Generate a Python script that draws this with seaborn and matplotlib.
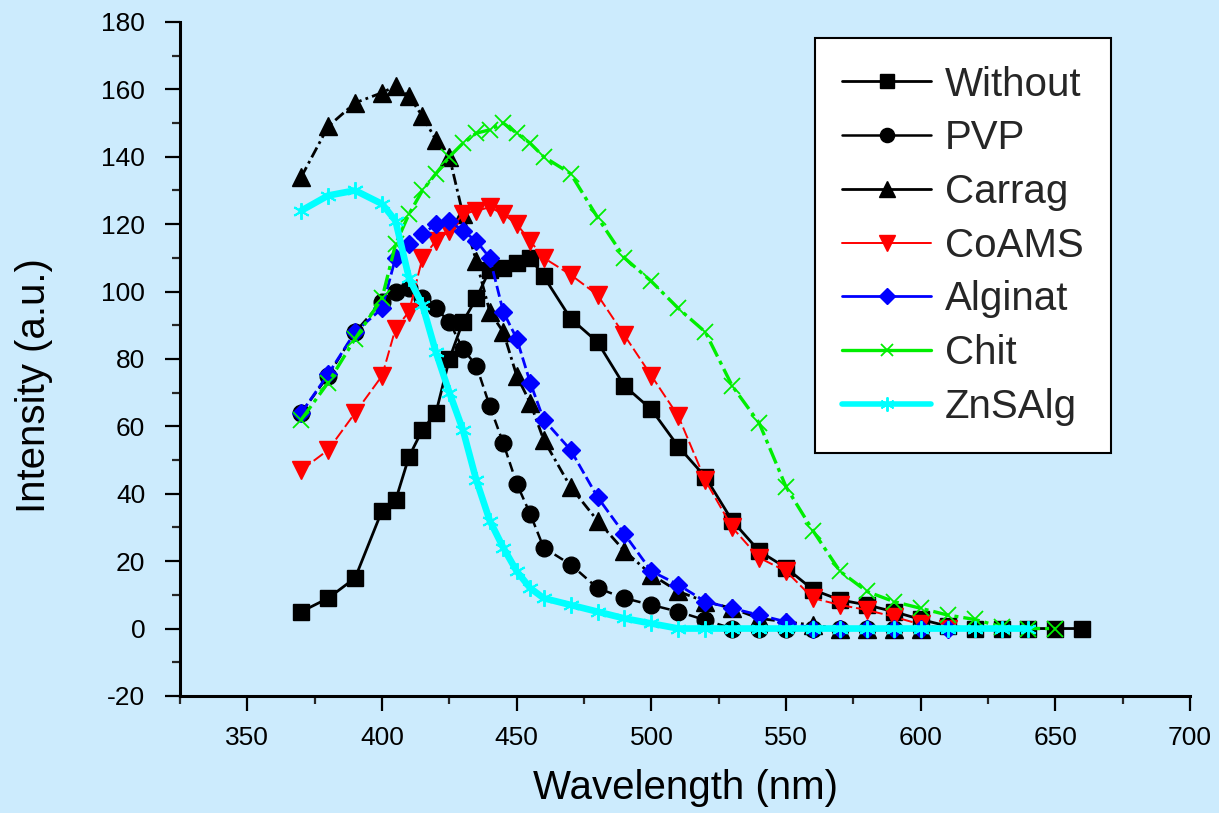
import matplotlib
matplotlib.use("Agg")
import matplotlib.pyplot as plt
from matplotlib.lines import Line2D
from matplotlib.ticker import MultipleLocator
import seaborn as sns

sns.set_theme(style="ticks")
plt.rcParams['font.family'] = ['Liberation Sans', 'DejaVu Sans']
plt.rcParams['axes.unicode_minus'] = False

# ---------------- data ----------------
without_x = [370, 380, 390, 400, 405, 410, 415, 420, 425, 430, 435, 440, 445, 450, 455, 460,
             470, 480, 490, 500, 510, 520, 530, 540, 550, 560, 570, 580, 590, 600, 610, 620,
             630, 640, 650, 660]
without_y = [5, 9, 15, 35, 38, 51, 59, 64, 80, 91, 98, 106.5, 107, 108.5, 110, 104.5,
             92, 85, 72, 65, 54, 45, 32, 23, 18, 11.5, 8.5, 7, 5, 2.7, 0.7, 0,
             0, 0, 0, 0]

pvp_x = [370, 380, 390, 400, 405, 410, 415, 420, 425, 430, 435, 440, 445, 450, 455, 460,
         470, 480, 490, 500, 510, 520, 530, 540, 550, 560, 570, 580, 590, 600]
pvp_y = [64, 75, 88, 97, 100, 101, 98, 95, 91, 83, 78, 66, 55, 43, 34, 24,
         19, 12, 9, 7, 5, 2.5, 0, 0, 0, 0, 0, 0, 0, 0]

carrag_x = [370, 380, 390, 400, 405, 410, 415, 420, 425, 430, 435, 440, 445, 450, 455, 460,
            470, 480, 490, 500, 510, 520, 530, 540, 550, 560, 570, 580, 590, 600]
carrag_y = [134, 149, 156, 159, 161, 158, 152, 145, 140, 123, 109, 94, 88, 75, 67, 56,
            42, 32, 23, 16, 11, 8, 6, 3, 2, 1, 0, 0, 0, 0]

coams_x = [370, 380, 390, 400, 405, 410, 415, 420, 425, 430, 435, 440, 445, 450, 455, 460,
           470, 480, 490, 500, 510, 520, 530, 540, 550, 560, 570, 580, 590, 600, 610]
coams_y = [47, 53, 64, 75, 89, 94, 110, 115, 118, 123, 124, 125, 123, 120, 115, 110,
           105, 99, 87, 75, 63, 44, 30, 21, 17, 9, 7, 5.5, 3.5, 1.2, 0]

alginat_x = [370, 380, 390, 400, 405, 410, 415, 420, 425, 430, 435, 440, 445, 450, 455, 460,
             470, 480, 490, 500, 510, 520, 530, 540, 550, 560, 570, 580, 590, 600, 610]
alginat_y = [64, 75.5, 88, 95, 110, 114, 117, 120, 121, 118, 115, 110, 94, 86, 73, 62,
             53, 39, 28, 17, 13, 8, 6, 4, 2, 0, 0, 0, 0, 0, 0]

chit_x = [370, 380, 390, 400, 405, 410, 415, 420, 425, 430, 435, 440, 445, 450, 455, 460,
          470, 480, 490, 500, 510, 520, 530, 540, 550, 560, 570, 580, 590, 600, 610, 620,
          630, 640, 650]
chit_y = [62, 73, 86, 98, 114, 123, 130, 135, 140, 144, 147, 148, 150, 147, 144, 140,
          135, 122, 110, 103, 95, 88, 72, 61, 42, 29, 17, 11, 8, 6, 4, 2.7,
          0.5, 0, 0]

znsalg_x = [370, 380, 390, 400, 405, 410, 415, 420, 425, 430, 435, 440, 445, 450, 455, 460,
            470, 480, 490, 500, 510, 520, 530, 540, 550, 560, 570, 580, 590, 600, 610, 620,
            630, 640]
znsalg_y = [124, 128.5, 130, 126, 121, 104, 96, 82, 70, 59, 44, 32, 24, 17, 12, 9,
            7, 5, 3, 1.5, 0, 0, 0, 0, 0, 0, 0, 0, 0, 0, 0, 0,
            0, 0]

labels = ["Without", "PVP", "Carrag", "CoAMS", "Alginat", "Chit", "ZnSAlg"]
xs = [without_x, pvp_x, carrag_x, coams_x, alginat_x, chit_x, znsalg_x]
ys = [without_y, pvp_y, carrag_y, coams_y, alginat_y, chit_y, znsalg_y]

x_ticks = [350, 400, 450, 500, 550, 600, 650, 700]
y_ticks = [-20, 0, 20, 40, 60, 80, 100, 120, 140, 160, 180]

# ---------------- styles ----------------
styles = [
    dict(color="black", lw=2.0, ls="-", marker="s", ms=12, mew=1.0, mfc="black"),
    dict(color="black", lw=1.8, ls=(0, (4, 2)), marker="o", ms=12, mew=1.0, mfc="black"),
    dict(color="black", lw=2.0, ls=(0, (4, 1.5, 1, 1.5)), marker="^", ms=13, mew=1.0, mfc="black"),
    dict(color="red", lw=1.4, ls=(0, (6, 2)), marker="v", ms=13, mew=1.0, mfc="red"),
    dict(color="blue", lw=2.0, ls=(0, (4, 1.5)), marker="D", ms=9, mew=1.0, mfc="blue"),
    dict(color="#00ee00", lw=2.4, ls=(0, (5, 1.5, 1.2, 1.5)), marker="x", ms=11, mew=1.3, mfc="#00ee00"),
    dict(color="cyan", lw=4.8, ls="-", marker=(6, 2, 0), ms=12, mew=1.4, mfc="cyan"),
]

bg = "#CCEBFD"
fig = plt.figure(figsize=(12.19, 8.13), dpi=100, facecolor=bg)
ax = fig.add_axes([0.1477, 0.144, 0.8286, 0.829])
ax.set_facecolor(bg)

for x, y, st in zip(xs, ys, styles):
    sns.lineplot(x=x, y=y, ax=ax, color=st["color"], linewidth=st["lw"],
                 linestyle=st["ls"], marker=st["marker"], markersize=st["ms"],
                 markeredgecolor=st["color"], markerfacecolor=st["mfc"],
                 markeredgewidth=st["mew"], legend=False, sort=False,
                 estimator=None)

ax.set_xlim(325, 700)
ax.set_ylim(-20, 180)
ax.set_xticks(x_ticks)
ax.set_yticks(y_ticks)
ax.xaxis.set_minor_locator(MultipleLocator(25))
ax.yaxis.set_minor_locator(MultipleLocator(10))
ax.tick_params(which="major", length=11, width=1.6, labelsize=19,
               direction="out", colors="black")
ax.tick_params(axis="x", which="major", pad=11)
ax.tick_params(axis="y", which="major", pad=14)
ax.tick_params(which="minor", length=5.5, width=1.6, direction="out")
for side in ["top", "right"]:
    ax.spines[side].set_visible(False)
for side in ["left", "bottom"]:
    ax.spines[side].set_linewidth(2.2)
    ax.spines[side].set_color("black")

ax.set_xlabel("Wavelength (nm)", fontsize=29, labelpad=13, color="black")
ax.set_ylabel("Intensity (a.u.)", fontsize=29, color="black")
ax.yaxis.set_label_coords(-0.126, 0.46)

handles = [Line2D([0], [0], color=st["color"],
                  lw=min(st["lw"], 2.6) if st["marker"] != (6, 2, 0) else 4.0,
                  ls="-", marker=st["marker"], markersize=st["ms"] * 0.85,
                  markeredgecolor=st["color"], markerfacecolor=st["mfc"],
                  markeredgewidth=st["mew"])
           for st in styles]
leg = ax.legend(handles=handles, labels=labels, loc="upper right",
                bbox_to_anchor=(0.922, 0.976), borderaxespad=0,
                fontsize=29, frameon=True, fancybox=False, framealpha=1,
                edgecolor="black", facecolor="white", handlelength=2.2,
                handletextpad=0.35, labelspacing=0.39, borderpad=0.68, numpoints=1)
leg.get_frame().set_linewidth(1.5)

fig.savefig("out.png", dpi=100, facecolor=bg)
